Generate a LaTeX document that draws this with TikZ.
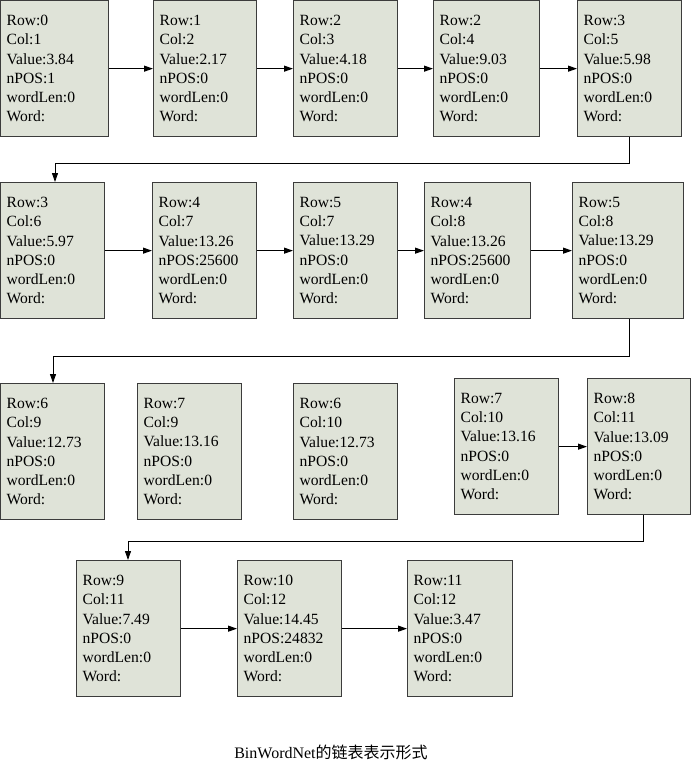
\documentclass[tikz,border=0pt]{standalone}
\usepackage{fontspec}
\setmainfont{Liberation Serif}
\newfontfamily\cjk{Noto Sans CJK SC}
\usepackage{tikz}
\usetikzlibrary{arrows.meta,positioning,calc}
\definecolor{cellgray}{HTML}{DFE3D8}
\definecolor{cellborder}{HTML}{3C3C3C}
\tikzset{
  cell/.style={draw=cellborder, fill=cellgray, line width=1.3pt, anchor=north west,
    minimum height=136pt, align=left, text width=92pt, inner xsep=6pt,
    font=\fontsize{15.6}{19.3}\selectfont},
  link/.style={line width=1.1pt, -{Triangle[length=9pt,width=6pt]}},
  wrap/.style={line width=0.9pt, -{Triangle[length=9pt,width=6pt]}}
}

\begin{document}
\begin{tikzpicture}[x=1pt, y=-1pt]
\useasboundingbox (0,0) rectangle (691,763);

% first row
\node[cell, text width=96pt] (n1) at (0,0) {Row:0\\Col:1\\Value:3.84\\nPOS:1\\wordLen:0\\Word:};
\node[cell, text width=91pt] (n2) at (153,0) {Row:1\\Col:2\\Value:2.17\\nPOS:0\\wordLen:0\\Word:};
\node[cell] (n3) at (293,0) {Row:2\\Col:3\\Value:4.18\\nPOS:0\\wordLen:0\\Word:};
\node[cell, text width=94pt] (n4) at (433,0) {Row:2\\Col:4\\Value:9.03\\nPOS:0\\wordLen:0\\Word:};
\node[cell] (n5) at (577,0) {Row:3\\Col:5\\Value:5.98\\nPOS:0\\wordLen:0\\Word:};

% second row
\node[cell] (n6) at (0,182) {Row:3\\Col:6\\Value:5.97\\nPOS:0\\wordLen:0\\Word:};
\node[cell] (n7) at (152,182) {Row:4\\Col:7\\Value:13.26\\nPOS:25600\\wordLen:0\\Word:};
\node[cell] (n8) at (293,182) {Row:5\\Col:7\\Value:13.29\\nPOS:0\\wordLen:0\\Word:};
\node[cell, text width=94pt] (n9) at (424,182) {Row:4\\Col:8\\Value:13.26\\nPOS:25600\\wordLen:0\\Word:};
\node[cell, text width=99pt] (n10) at (572,182) {Row:5\\Col:8\\Value:13.29\\nPOS:0\\wordLen:0\\Word:};

% third row
\node[cell] (n11) at (0,383) {Row:6\\Col:9\\Value:12.73\\nPOS:0\\wordLen:0\\Word:};
\node[cell] (n12) at (137,383) {Row:7\\Col:9\\Value:13.16\\nPOS:0\\wordLen:0\\Word:};
\node[cell] (n13) at (293,383) {Row:6\\Col:10\\Value:12.73\\nPOS:0\\wordLen:0\\Word:};
\node[cell] (n14) at (454,378) {Row:7\\Col:10\\Value:13.16\\nPOS:0\\wordLen:0\\Word:};
\node[cell, text width=91pt] (n15) at (587,378) {Row:8\\Col:11\\Value:13.09\\nPOS:0\\wordLen:0\\Word:};

% last row
\node[cell] (n16) at (76,560) {Row:9\\Col:11\\Value:7.49\\nPOS:0\\wordLen:0\\Word:};
\node[cell] (n17) at (237,560) {Row:10\\Col:12\\Value:14.45\\nPOS:24832\\wordLen:0\\Word:};
\node[cell, text width=93pt] (n18) at (407,560) {Row:11\\Col:12\\Value:3.47\\nPOS:0\\wordLen:0\\Word:};

\node[font=\fontsize{16}{18}\selectfont] (title) at (331,752) {BinWordNet{\cjk 的链表表示形式}};

% links
\foreach \a/\b in {n1/n2,n2/n3,n3/n4,n4/n5,n6/n7,n7/n8,n8/n9,n9/n10,n14/n15,n16/n17,n17/n18}
  \draw[link] (\a) -- (\b);

\draw[wrap] (n5.south -| 629,0) |- (55,163) -- (n6.north -| 55,0);
\draw[wrap] (n10.south -| 629,0) |- (53,356) -- (n11.north -| 53,0);
\draw[wrap] (n15.south -| 643,0) |- (128,541) -- (n16.north -| 128,0);
\end{tikzpicture}
\end{document}
